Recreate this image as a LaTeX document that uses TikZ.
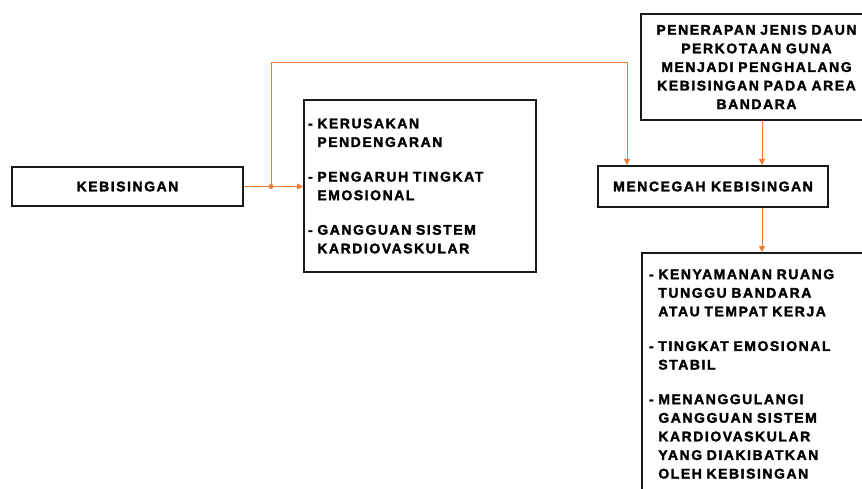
\documentclass[tikz,border=0pt]{standalone}
\usepackage{fontspec}
\setmainfont{Liberation Sans}[LetterSpace=11, BoldFeatures={FakeBold=2}]
\usepackage{tikz}
\usetikzlibrary{arrows.meta}
\definecolor{LineOrange}{HTML}{ED7D31}
\definecolor{BoxBlack}{HTML}{1A1A1A}

\newcommand{\gap}{\hphantom{- }}

\begin{document}
\begin{tikzpicture}[x=1pt, y=-1pt,
    box/.style={draw=BoxBlack, line width=2pt, fill=white, inner sep=0pt,
      font=\bfseries\fontsize{14}{18.6}\selectfont},
    flow/.style={LineOrange, line width=1pt, -{Triangle[length=6pt, width=6pt]}}]
  \clip (0,0) rectangle (862,489);
  \fill[white] (0,0) rectangle (862,489);

  \node[box, minimum width=231, minimum height=39] (kebisingan) at (127.5,186.5) {KEBISINGAN};

  \node[box, minimum width=232, minimum height=171, text width=224, align=left] (dampak) at (420,186)
    {- KERUSAKAN\\ \gap PENDENGARAN\\[16pt]
     - PENGARUH TINGKAT\\ \gap EMOSIONAL\\[16pt]
     - GANGGUAN SISTEM\\ \gap KARDIOVASKULAR};

  \node[box, minimum width=231, minimum height=106, text width=229, align=center] (penerapan) at (756.5,67)
    {PENERAPAN JENIS DAUN\\ PERKOTAAN GUNA\\ MENJADI PENGHALANG\\ KEBISINGAN PADA AREA\\ BANDARA};

  \node[box, minimum width=230, minimum height=41] (cegah) at (713,186.5) {MENCEGAH KEBISINGAN};

  \node[box, anchor=north west, minimum width=231, minimum height=242, text width=217, align=left] (manfaat) at (641,252)
    {- KENYAMANAN RUANG\\ \gap TUNGGU BANDARA\\ \gap ATAU TEMPAT KERJA\\[16pt]
     - TINGKAT EMOSIONAL\\ \gap STABIL\\[16pt]
     - MENANGGULANGI\\ \gap GANGGUAN SISTEM\\ \gap KARDIOVASKULAR\\ \gap YANG DIAKIBATKAN\\ \gap OLEH KEBISINGAN};

  \coordinate (split) at ([xshift=27]kebisingan.east);
  \draw[flow] (kebisingan.east) -- (kebisingan.east -| dampak.west);
  \fill[LineOrange] (split) circle (2.5);
  \draw[flow] (split) -- ++(0,-123.5) -| ([xshift=30]cegah.north west);
  \draw[flow] ([xshift=5.5]penerapan.south) -- ([xshift=5.5]penerapan.south |- cegah.north);
  \draw[flow] ([xshift=49]cegah.south) -- ([xshift=49]cegah.south |- manfaat.north);
\end{tikzpicture}
\end{document}
